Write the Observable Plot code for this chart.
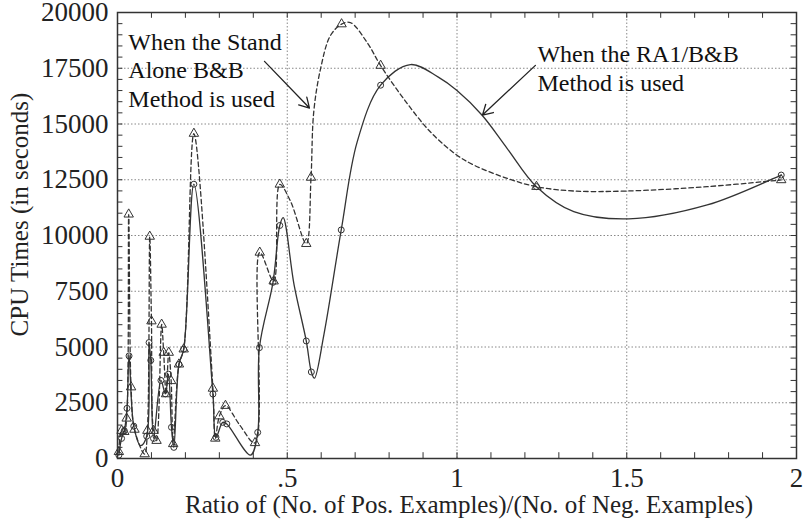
<!DOCTYPE html>
<html>
<head>
<meta charset="utf-8">
<script src="https://cdn.jsdelivr.net/npm/d3@7"></script>
<script src="https://cdn.jsdelivr.net/npm/@observablehq/plot@0.6"></script>
<style>
  html, body { margin: 0; padding: 0; background: #fff; }
  #chart { width: 804px; height: 524px; }
  #chart svg, #chart svg text { font-family: "Liberation Serif", "Times New Roman", Times, serif; }
</style>
</head>
<body>
<div id="chart"></div>
<script>
// RA1/B&B method (solid line): runs marked with circles
const raRatio = [0.004, 0.012, 0.020, 0.028, 0.034, 0.048, 0.086, 0.093, 0.098, 0.106, 0.128, 0.141, 0.150, 0.159, 0.166, 0.181, 0.195, 0.225, 0.281, 0.290, 0.310, 0.322, 0.413, 0.418,
                 0.458, 0.478, 0.556, 0.571, 0.659, 0.775, 1.234, 1.955];
const raTime  = [150, 900, 1250, 2250, 4600, 1450, 1000, 5200, 4400, 900, 3500, 2900, 3780, 1400, 500, 4225, 4900, 12300, 2890, 950, 1620, 1550, 1170, 4970,
                 7900, 10450, 5270, 3880, 10250, 16740, 12190, 12710];
// further readings along the solid curve (no symbol drawn)
const raTraceRatio = [0.068, 0.392, 0.488, 0.520, 0.580, 0.608, 0.706, 0.863, 0.945, 1.000, 1.074, 1.148, 1.344, 1.506, 1.737, 1.933];
const raTraceTime  = [580, 150, 10800, 7800, 3600, 5560, 14200, 17665, 17100, 16500, 15390, 13900, 11070, 10745, 11370, 12560];

// Stand-alone B&B method (dashed line): runs marked with triangles
const saRatio = [0.004, 0.012, 0.020, 0.027, 0.033, 0.040, 0.050, 0.080, 0.088, 0.095, 0.100, 0.106, 0.115, 0.130, 0.136, 0.143, 0.151, 0.158, 0.164, 0.181, 0.195, 0.225, 0.281, 0.288, 0.300, 0.318, 0.405, 0.419,
                 0.460, 0.478, 0.556, 0.570, 0.660, 0.775, 1.234, 1.955];
const saTime  = [300, 1250, 1200, 1800, 10950, 3200, 1300, 200, 1250, 9955, 6160, 1250, 800, 6010, 4750, 2890, 4750, 3480, 655, 4225, 4900, 14570, 3140, 900, 1900, 2370, 700, 9240,
                 7950, 12290, 9630, 12600, 19480, 17620, 12190, 12490];
// further readings along the dashed curve (no symbol drawn)
const saTraceRatio = [0.360, 0.510, 0.578, 0.598, 0.627, 0.686, 0.735, 0.843, 0.922, 1.000, 1.050, 1.148, 1.344, 1.500, 1.737];
const saTraceTime  = [1500, 11520, 15535, 17470, 18960, 19550, 18660, 16130, 14640, 13600, 13155, 12560, 11995, 11995, 12190];

// Axis ticks and titles
const xTicks = [0, 0.5, 1, 1.5, 2];
const xMinor = d3.range(0, 2.0001, 0.1);
const yTicks = d3.range(0, 20001, 2500);
const yMinor = d3.range(0, 20001, 500);
const xTitle = "Ratio of (No. of Pos. Examples)/(No. of Neg. Examples)";
const yTitle = "CPU Times (in seconds)";

// Call-out labels and their arrows
const notes = [
  {text: "When the Stand\nAlone B&B\nMethod is used", x: 0.032, y: 17460, x1: 0.433, y1: 17810, x2: 0.5655, y2: 15715},
  {text: "When the RA1/B&B\nMethod is used", x: 1.237, y: 17550, x1: 1.231, y1: 17630, x2: 1.075, y2: 15400}
];

const toRows = (xs, ys) => xs.map((x, i) => ({x, y: ys[i]}));
const byX = (a, b) => a.x - b.x;
const ra = toRows(raRatio, raTime);
const sa = toRows(saRatio, saTime);
const raCurve = ra.concat(toRows(raTraceRatio, raTraceTime)).sort(byX);
const saCurve = sa.concat(toRows(saTraceRatio, saTraceTime)).sort(byX);

const ink = "#333";

const chart = Plot.plot({
  width: 804,
  height: 524,
  marginLeft: 117,
  marginRight: 8,
  marginTop: 12,
  marginBottom: 66,
  style: {fontFamily: "Liberation Serif", fontSize: "27px", background: "#fff", color: "#222"},
  x: {
    domain: [0, 2], ticks: xTicks, tickSize: 0, tickPadding: 9,
    tickFormat: d => d === 0.5 ? ".5" : String(d),
    label: null
  },
  y: {
    domain: [0, 20000], ticks: yTicks, tickSize: 0, tickPadding: 9,
    tickFormat: d => String(d),
    label: null
  },
  marks: [
    // dotted grid
    Plot.ruleX(xTicks.slice(1, -1), {stroke: "#888", strokeWidth: 1, strokeDasharray: "1.5,2"}),
    Plot.ruleY(yTicks.slice(1, -1), {stroke: "#888", strokeWidth: 1, strokeDasharray: "1.5,2"}),
    // inward minor ticks on all four sides
    Plot.ruleY(yMinor, {x1: 0, x2: 0.016, stroke: ink, strokeWidth: 1}),
    Plot.ruleY(yMinor, {x1: 1.984, x2: 2, stroke: ink, strokeWidth: 1}),
    Plot.ruleX(xMinor, {y1: 0, y2: 260, stroke: ink, strokeWidth: 1}),
    Plot.ruleX(xMinor, {y1: 19740, y2: 20000, stroke: ink, strokeWidth: 1}),
    // stand-alone B&B
    Plot.line(saCurve, {x: "x", y: "y", curve: "catmull-rom", stroke: ink, strokeWidth: 1.3, strokeDasharray: "4.5,3", clip: true}),
    Plot.dot(sa, {x: "x", y: "y", symbol: "triangle", r: 3.5, stroke: ink, fill: "none", strokeWidth: 1}),
    // RA1/B&B
    Plot.line(raCurve, {x: "x", y: "y", curve: "catmull-rom", stroke: ink, strokeWidth: 1.3, clip: true}),
    Plot.dot(ra, {x: "x", y: "y", symbol: "circle", r: 3, stroke: ink, fill: "none", strokeWidth: 1}),
    // call-outs
    Plot.arrow(notes, {x1: "x1", y1: "y1", x2: "x2", y2: "y2", stroke: "#222", strokeWidth: 1.3, headLength: 13}),
    Plot.text(notes, {x: "x", y: "y", text: "text", textAnchor: "start", lineAnchor: "middle", lineHeight: 1.2, fontSize: 24, fill: "#111"}),
    // axis titles
    Plot.text([xTitle], {text: d => d, frameAnchor: "bottom", textAnchor: "middle", lineAnchor: "middle", dx: 12, dy: 46, fontSize: 25, fill: "#222"}),
    Plot.text([yTitle], {text: d => d, frameAnchor: "left", textAnchor: "middle", lineAnchor: "middle", rotate: -90, dx: -98, dy: -21, fontSize: 25, fill: "#222"}),
    // frame
    Plot.frame({stroke: "#333", strokeWidth: 1.5})
  ]
});

document.getElementById("chart").appendChild(chart);
</script>
</body>
</html>
